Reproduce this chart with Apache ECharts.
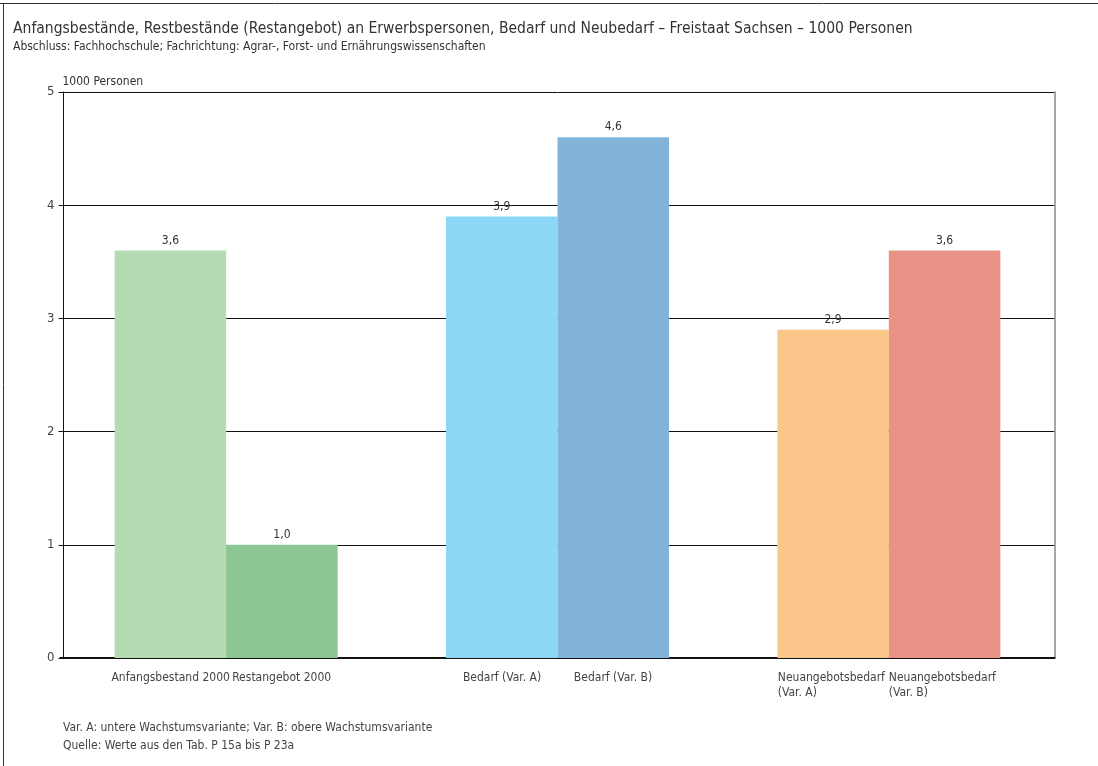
<!DOCTYPE html>
<html><head><meta charset="utf-8">
<script src="https://cdn.jsdelivr.net/npm/echarts@6/dist/echarts.min.js"></script>
<style>html,body{margin:0;padding:0;background:#fff}#c{width:1098px;height:766px}</style>
</head><body><div id="c"></div>
<script>
const titleText = 'Anfangsbestände, Restbestände (Restangebot) an Erwerbspersonen, Bedarf und Neubedarf – Freistaat Sachsen – 1000 Personen';
const subtitleText = 'Abschluss: Fachhochschule; Fachrichtung: Agrar-, Forst- und Ernährungswissenschaften';
const yAxisName = '1000 Personen';
const groups = ['Bestand', 'Bedarf', 'Neuangebotsbedarf'];
const labelsLeft = ['Anfangsbestand 2000', 'Bedarf (Var. A)', 'Neuangebotsbedarf\n(Var. A)'];
const labelsRight = ['Restangebot 2000', 'Bedarf (Var. B)', 'Neuangebotsbedarf\n(Var. B)'];
const valuesLeft = [3.6, 3.9, 2.9];
const valuesRight = [1.0, 4.6, 3.6];
const colorsLeft = ['#b5dbb3', '#8dd7f6', '#fbc68a'];
const colorsRight = ['#8cc692', '#82b4d9', '#e99387'];
const labelAlign = ['center', 'center', 'left'];
const noteLines = ['Var. A: untere Wachstumsvariante; Var. B: obere Wachstumsvariante', 'Quelle: Werte aus den Tab. P 15a bis P 23a'];

const FONT = '"Liberation Sans Narrow", "DejaVu Sans Condensed", "Roboto", sans-serif';
const chart = echarts.init(document.getElementById('c'), null, {renderer: 'canvas'});

function fmt(v) { return v.toFixed(1).replace('.', ','); }

const rich = {};
labelAlign.forEach((a, i) => {
  rich['a' + i] = {width: 111, align: a, fontFamily: FONT, fontSize: 12, color: '#444', lineHeight: 15};
});

const valueLabel = {show: true, position: 'top', distance: 4, formatter: p => fmt(p.value), fontFamily: FONT, fontSize: 12, color: '#333'};

chart.setOption({
  animation: false,
  textStyle: {fontFamily: FONT},
  title: {
    text: titleText, subtext: subtitleText, left: 8, top: 16, itemGap: 4,
    textStyle: {fontFamily: FONT, fontSize: 15.5, fontWeight: 'normal', color: '#333'},
    subtextStyle: {fontFamily: FONT, fontSize: 12, color: '#333'}
  },
  grid: {left: 60.5, right: 43.5, top: 92, bottom: 108},
  xAxis: {
    type: 'category', data: groups,
    axisLine: {lineStyle: {color: '#111', width: 2}},
    axisTick: {show: false},
    axisLabel: {
      margin: 12, interval: 0,
      formatter: function (v, i) {
        const L = labelsLeft[i].split('\n'), R = labelsRight[i].split('\n');
        const k = 'a' + i, lines = [];
        for (let j = 0; j < Math.max(L.length, R.length); j++) {
          lines.push('{' + k + '|' + (L[j] || ' ') + '}{' + k + '|' + (R[j] || ' ') + '}');
        }
        return lines.join('\n');
      },
      rich: rich
    }
  },
  yAxis: [{
    type: 'value', min: 0, max: 5, interval: 1, offset: -3,
    name: yAxisName, nameLocation: 'end', nameGap: 4,
    nameTextStyle: {align: 'left', fontFamily: FONT, fontSize: 12, color: '#333', padding: [0, 0, 0, -1]},
    axisLine: {show: true, lineStyle: {color: '#111', width: 1}},
    axisTick: {show: true, length: 5, lineStyle: {color: '#111'}},
    axisLabel: {fontFamily: FONT, fontSize: 13, color: '#444', margin: 9},
    splitLine: {lineStyle: {color: '#111', width: 1}}
  }, {
    type: 'value', min: 0, max: 5, interval: 1, position: 'right',
    axisLine: {show: true, lineStyle: {color: '#888', width: 1.5}},
    axisTick: {show: false}, axisLabel: {show: false}, splitLine: {show: false}
  }],
  series: [
    {
      type: 'bar', barWidth: 111.5, barGap: '0%',
      data: valuesLeft.map((v, i) => ({value: v, itemStyle: {color: colorsLeft[i]}})),
      label: valueLabel
    },
    {
      type: 'bar', barWidth: 111.5, barGap: '0%',
      data: valuesRight.map((v, i) => ({value: v, itemStyle: {color: colorsRight[i]}})),
      label: valueLabel
    }
  ],
  graphic: [
    {type: 'line', shape: {x1: 0, y1: 3.5, x2: 1098, y2: 3.5}, style: {stroke: '#333', lineWidth: 1}},
    {type: 'line', shape: {x1: 3.5, y1: 3, x2: 3.5, y2: 766}, style: {stroke: '#333', lineWidth: 1}},
    {type: 'text', left: 63, top: 719, style: {text: noteLines.join('\n'), fontFamily: FONT, fontSize: 12, lineHeight: 18, fill: '#444'}}
  ]
});
</script></body></html>
